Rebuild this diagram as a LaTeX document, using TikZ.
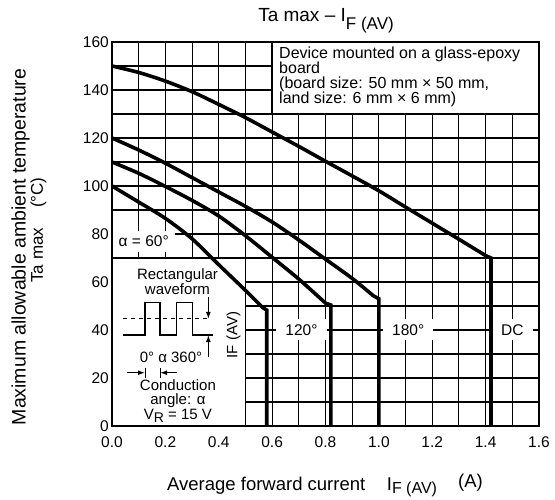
\documentclass[tikz,border=0pt]{standalone}
\usepackage{fontspec}
\setmainfont{Liberation Sans}
\usetikzlibrary{arrows.meta}
\begin{document}
\begin{tikzpicture}[x=266.875pt,y=2.4pt,
  gridline/.style={line width=1.1pt},
  frameline/.style={line width=2pt},
  boxline/.style={line width=1.6pt},
  curve/.style={line width=3.6pt, line join=miter},
  tick/.style={font=\fontsize{15.5}{18}\selectfont, inner sep=0pt},
  tag/.style={font=\fontsize{15.5}{18}\selectfont, fill=white, inner xsep=9pt, inner ysep=0pt, minimum height=21pt},
  inset/.style={font=\fontsize{15}{14.5}\selectfont, inner sep=0pt, align=center},
  wave/.style={line width=1.6pt},
  dimarrow/.style={line width=1.2pt, -{Latex[length=7pt,width=5pt]}},
  dimtick/.style={line width=1pt},
  axlabel/.style={font=\fontsize{18.5}{22}\selectfont, inner sep=0pt}]
\useasboundingbox (-112pt,-74pt) rectangle (443pt,426pt);
% grid
\foreach \i in {1,...,15} \draw[gridline] (\i/10,0) -- (\i/10,160);
\foreach \j in {1,...,15} \draw[gridline] (0,\j*10) -- (1.6,\j*10);
% boxes
\filldraw[fill=white, boxline] (0,0) rectangle (0.5,70);
\filldraw[fill=white, boxline] (0.6,130) rectangle (1.6,160);
% tags
\node[tag, anchor=west, inner xsep=6.5pt] (a60) at (0,77) {α = 60°};
\node[tag] (t120) at (0.71,40) {120°};
\node[tag] (t180) at (1.11,40) {180°};
\node[tag] (tdc) at (1.5,40) {DC};
% curves
\draw[curve] plot[smooth, tension=0.5] coordinates {(0,150) (0.1,147.3) (0.2,143.7) (0.3,139.3) (0.4,134) (0.5,128.5) (0.6,122.5) (0.7,116.5) (0.8,110.3) (0.9,104.2) (1.0,98) (1.1,91.2) (1.2,84.5) (1.3,77.8) (1.4,71)} -- (1.42,70) -- (1.42,0);
\draw[curve] plot[smooth, tension=0.5] coordinates {(0,120) (0.1,115) (0.2,109.5) (0.3,103.5) (0.4,97.5) (0.5,91.5) (0.6,85) (0.7,77.5) (0.8,69.5) (0.9,61.5) (0.98,54.2)} -- (1.0,53) -- (1.0,0);
\draw[curve] plot[smooth, tension=0.5] coordinates {(0,110) (0.1,105.3) (0.2,99.8) (0.3,94) (0.4,87.5) (0.5,79.3) (0.6,70.3) (0.7,61.2) (0.8,51.2)} -- (0.82,50.4) -- (0.82,0);
\draw[curve] plot[smooth, tension=0.5] coordinates {(0,100) (0.1,93.3) (0.2,86.5) (0.3,78) (0.4,67.2) (0.5,56.5) (0.565,49.3)} -- (0.58,48.3) -- (0.58,0);
% frame
\draw[frameline] (0,0) rectangle (1.6,160);
% waveform inset
\draw[wave] (0.0423,37.9) -- (0.1237,37.9) -- (0.1237,51.4) -- (0.1799,51.4) -- (0.1799,37.9) -- (0.2424,37.9) -- (0.2424,51.4) -- (0.3009,51.4) -- (0.3009,37.9) -- (0.3796,37.9);
\draw[line width=1pt, dash pattern=on 4.5pt off 3.5pt] (0.0412,44.6) -- (0.367,44.6);
\coordinate (pa1) at (0.361,53.9); \coordinate (pa2) at (0.361,44.6);
\coordinate (pb1) at (0.361,28.9); \coordinate (pb2) at (0.361,37.9);
\draw[dimarrow] (pa1) -- (pa2);
\draw[dimarrow] (pb1) -- (pb2);
\coordinate (da1) at (0.055,22.2); \coordinate (da2) at (0.1237,22.2);
\coordinate (db1) at (0.2424,22.2); \coordinate (db2) at (0.1799,22.2);
\draw[dimarrow] (da1) -- (da2);
\draw[dimarrow] (db1) -- (db2);
\draw[dimtick] (0.1237,24.3) -- (0.1237,20);
\draw[dimtick] (0.1799,24.3) -- (0.1799,20);
\node[inset] (rect) at (0.2454,60.2) {Rectangular\\waveform};
\node[inset, rotate=90] (ifav) at (0.4553,37.9) {IF (AV)};
\node[inset] (ang) at (0.221,28.5) {0° α 360°};
\node[inset] (cond) at (0.247,10.4) {Conduction\\angle: α\\V\raisebox{-3pt}{\fontsize{14}{14}\selectfont R} = 15 V};
% device box text
\node[anchor=north west, inner sep=0pt, align=left, font=\fontsize{16}{15}\selectfont] (dev) at (0.6258,158.1) {Device mounted on a glass-epoxy\\board\\(board size: 50 mm × 50 mm,\\land size: 6 mm × 6 mm)};
% ticks
\foreach \t in {0,20,...,160} \node[tick, anchor=east] (y\t) at ([xshift=-3pt]0,\t) {\t};
\foreach \k/\l in {0/0.0,1/0.2,2/0.4,3/0.6,4/0.8,5/1.0,6/1.2,7/1.4,8/1.6} \node[tick, anchor=north] (x\k) at ([yshift=-10.5pt]\k*0.2,0) {\l};
% title
\node[anchor=base, inner sep=0pt, font=\fontsize{19}{22}\selectfont] (title) at (0.8019,168.46) {Ta max – I\raisebox{-7.7pt}{\fontsize{17}{17}\selectfont F (AV)}};
% axis labels
\node[axlabel, anchor=base west] (xlab) at (0.206,-26.67) {Average forward current};
\node[axlabel, anchor=base west] (xsym) at (1.0293,-26.67) {I\raisebox{-3pt}{\fontsize{16}{16}\selectfont F (AV)}};
\node[axlabel, anchor=base west] (xunit) at (1.2965,-25.8) {(A)};
\node[rotate=90, inner sep=0pt, font=\fontsize{19.5}{22}\selectfont] (ylab) at (-0.3429,74.6) {Maximum allowable ambient temperature};
\node[rotate=90, inner sep=0pt, font=\fontsize{17}{20}\selectfont] (ylab2) at (-0.2754,81.67) {Ta max\hspace{20pt}(°C)};
\end{tikzpicture}
\end{document}
